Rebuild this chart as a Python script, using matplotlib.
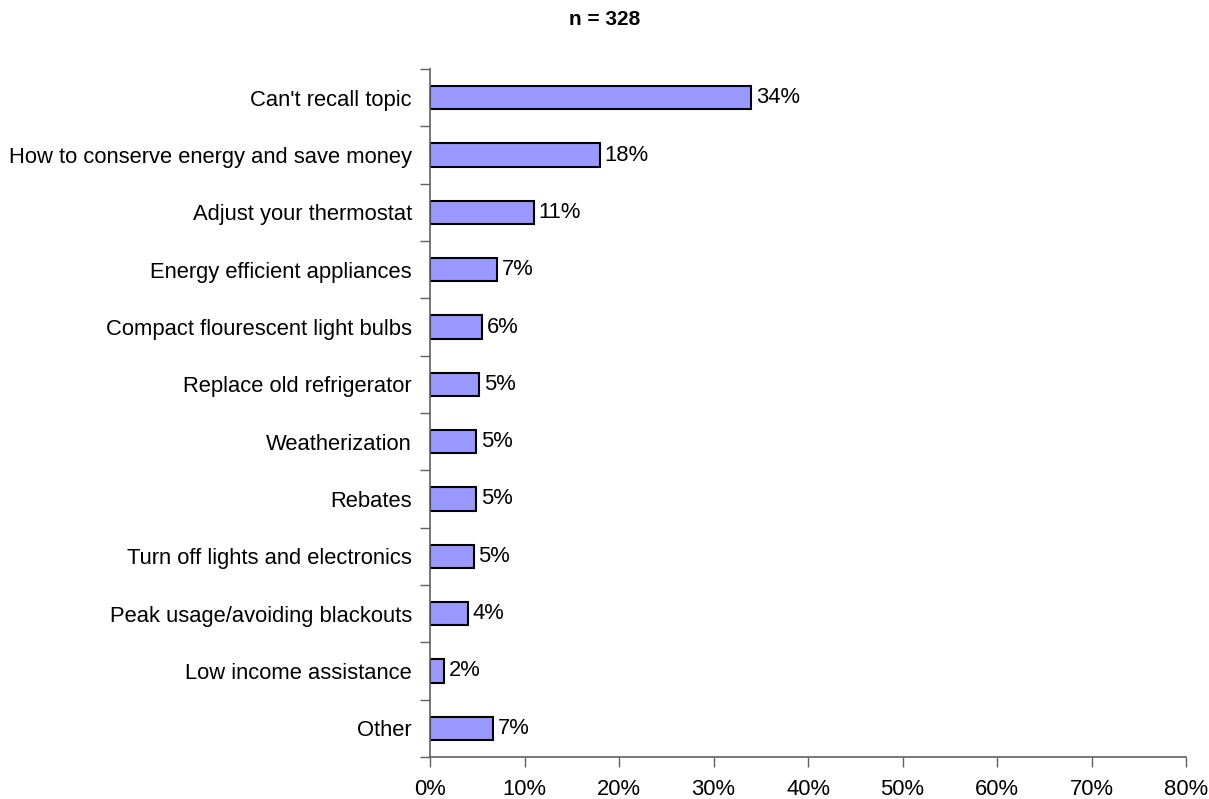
import numpy as np
import matplotlib.pyplot as plt

plt.rcParams['font.family'] = ['Liberation Sans', 'DejaVu Sans']

# survey responses, top to bottom
topics = ["Can't recall topic",
          "How to conserve energy and save money",
          "Adjust your thermostat",
          "Energy efficient appliances",
          "Compact flourescent light bulbs",
          "Replace old refrigerator",
          "Weatherization",
          "Rebates",
          "Turn off lights and electronics",
          "Peak usage/avoiding blackouts",
          "Low income assistance",
          "Other"]
shares = [34.0, 18.0, 11.0, 7.05, 5.5, 5.2, 4.9, 4.9, 4.6, 4.0, 1.5, 6.7]
xticks = [0, 10, 20, 30, 40, 50, 60, 70, 80]

fs = 15.8

fig = plt.figure(figsize=(12.09, 7.99), dpi=100)
ax = fig.add_axes([0.3557, 0.0526, 0.6253, 0.861])

y = np.arange(len(topics))
ax.barh(y, shares, height=0.41, color='#9999FF', edgecolor='black', linewidth=1.5)

for yi, v in zip(y, shares):
    ax.text(v + 0.5, yi, f"{v:.0f}%", va='center', ha='left', fontsize=fs)

ax.set_ylim(len(topics) - 0.5, -0.5)
ax.set_xlim(0, 80)
ax.set_xticks(xticks)
ax.set_xticklabels([f"{t}%" for t in xticks], fontsize=fs)

# category names as labels, tick marks on the boundaries
ax.set_yticks(y)
ax.set_yticklabels(topics, fontsize=fs)
ax.tick_params(axis='y', length=0, pad=13)
ax.set_yticks(np.arange(-0.5, len(topics)), minor=True)
ax.tick_params(axis='y', which='minor', length=7, width=1, color='#606060')
ax.tick_params(axis='x', length=7, width=1, color='#606060', pad=9)

for side in ['top', 'right']:
    ax.spines[side].set_visible(False)
for side in ['left', 'bottom']:
    ax.spines[side].set_color('#606060')
    ax.spines[side].set_linewidth(1.2)

fig.text(0.5, 0.975, 'n = 328', ha='center', va='center', fontsize=15, fontweight='bold')

plt.savefig('out.png', dpi=100)
